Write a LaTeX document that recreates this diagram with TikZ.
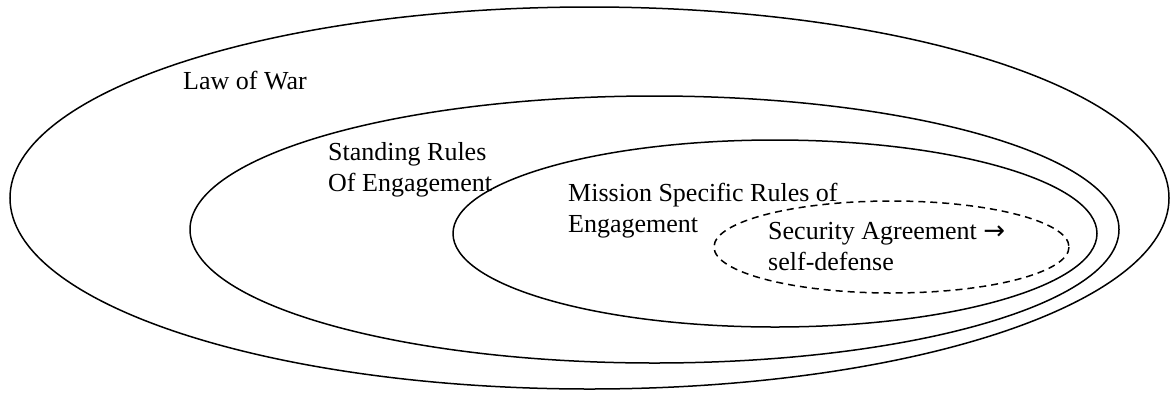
\documentclass[tikz,border=0pt]{standalone}
\usepackage{fontspec}
\setmainfont{Liberation Serif}
\newfontfamily\arrowfont{DejaVu Sans}
\tikzset{ring/.style={line width=1.5pt}}
\tikzset{ringdash/.style={line width=1.5pt, dash pattern=on 7pt off 5pt}}
\tikzset{lbl/.style={inner sep=0pt, anchor=base west, align=left, font=\fontsize{26}{30.5}\selectfont}}

\begin{document}
\begin{tikzpicture}[x=1pt, y=-1pt]
    \useasboundingbox (0, 0) rectangle (1170, 392);

    \draw[ring] (589.5, 198) ellipse (579.5 and 191);
    \draw[ring] (654.5, 229.5) ellipse (464.5 and 133.5);
    \draw[ring] (775, 233.5) ellipse (322 and 93.5);
    \draw[ringdash] (891.5, 247) ellipse (177.5 and 46);

    % base anchor sits on the last line
    \node[lbl] (law) at (183, 89) {Law of War};
    \node[lbl] (sroe) at (328, 191) {Standing Rules\\Of Engagement};
    \node[lbl] (msroe) at (568, 232) {Mission Specific Rules of\\Engagement};
    \node[lbl] (secag) at (768, 270) {Security Agreement {\arrowfont →}\\self-defense};
\end{tikzpicture}
\end{document}
